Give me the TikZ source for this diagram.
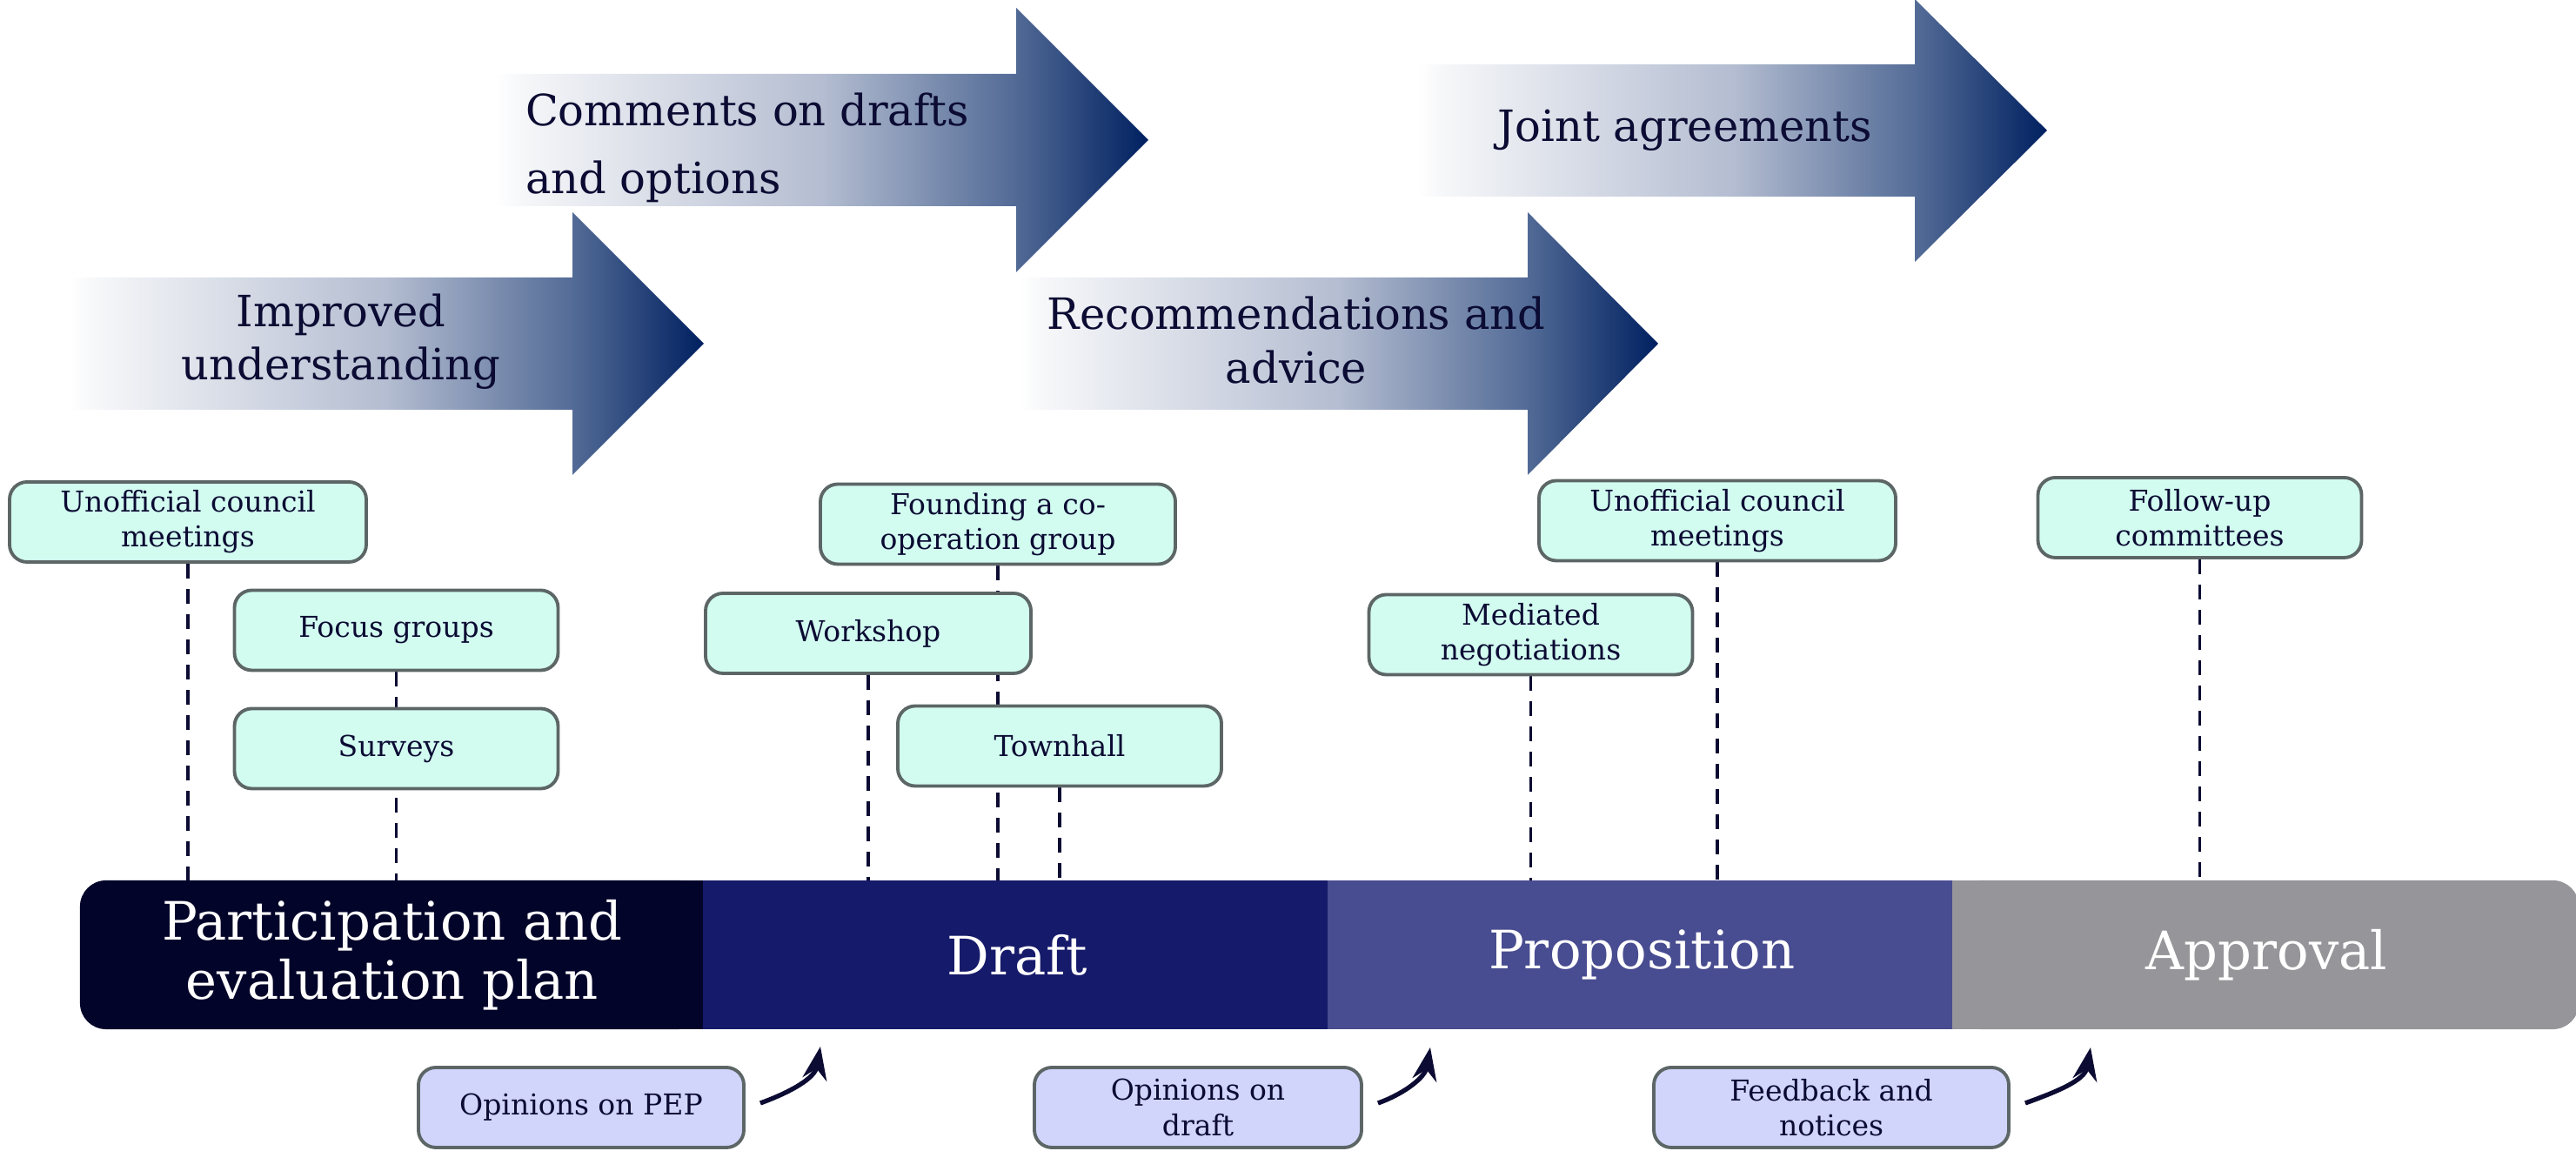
\documentclass[tikz,border=0pt]{standalone}
\usepackage{fontspec}
\setmainfont{DejaVu Serif}
\usepackage{tikz}
\usetikzlibrary{backgrounds}
\usetikzlibrary{positioning}
\usetikzlibrary{arrows.meta}
\definecolor{navytext}{HTML}{0B0B33}
\definecolor{planblue}{HTML}{03042A}
\definecolor{draftblue}{HTML}{161A6A}
\definecolor{propblue}{HTML}{484C90}
\definecolor{approvalgray}{HTML}{96959A}
\definecolor{mintfill}{HTML}{D2FCF0}
\definecolor{lavfill}{HTML}{D1D5FC}
\definecolor{cardline}{HTML}{5D6666}
\definecolor{gaindark}{HTML}{002060}
\definecolor{gainpale}{HTML}{F6F7F9}
\definecolor{gainmid}{HTML}{B4BDD1}
\definecolor{gainlow}{HTML}{546C97}
\pgfdeclarehorizontalshading{gainshade}{100bp}{color(0bp)=(white); color(25bp)=(white); color(27bp)=(gainpale); color(50bp)=(gainmid); color(64.5bp)=(gainlow); color(75bp)=(gaindark); color(100bp)=(gaindark)}

\begin{document}
\begin{tikzpicture}[
            > = {Stealth[length=3.8mm,width=2.8mm]}, % arrow head style
            semithick % line style
            ]

        \tikzstyle{phase}=[
            inner sep = 0pt,
            minimum width = 7.16cm,
            minimum height = 1.69cm,
            align = center,
            text = white,
            font = \fontsize{17.3}{19.4}\selectfont
        ]
        \tikzstyle{topcard}=[
            draw = cardline,
            line width = 1.1pt,
            fill = mintfill,
            rounded corners = 0.2cm,
            inner sep = 0pt,
            minimum width = 3.72cm,
            minimum height = 0.92cm,
            align = center,
            text = navytext,
            font = \fontsize{9.4}{11.4}\selectfont
        ]
        \tikzstyle{bottomcard}=[topcard, fill = lavfill]
        \tikzstyle{gain}=[text = navytext, align = center, inner sep = 0pt, font = \fontsize{14.1}{17.4}\selectfont]
        \tikzstyle{guide}=[draw = navytext, line width = 1pt, dash pattern = on 0.17cm off 0.12cm]
        \tikzstyle{feed}=[->, draw = navytext, line width = 1.5pt]

        \useasboundingbox (0,0) rectangle (29.61,13.23);

	% gain arrows
	\shade[shading = gainshade] (0.80,10.04) -- (6.58,10.04) -- (6.58,10.79) -- (8.09,9.28) -- (6.58,7.77) -- (6.58,8.52) -- (0.80,8.52) -- cycle;
	\shade[shading = gainshade] (5.70,12.38) -- (11.68,12.38) -- (11.68,13.14) -- (13.20,11.62) -- (11.68,10.10) -- (11.68,10.86) -- (5.70,10.86) -- cycle;
	\shade[shading = gainshade] (11.72,10.04) -- (17.56,10.04) -- (17.56,10.79) -- (19.06,9.28) -- (17.56,7.77) -- (17.56,8.52) -- (11.72,8.52) -- cycle;
	\shade[shading = gainshade] (16.30,12.49) -- (22.01,12.49) -- (22.01,13.24) -- (23.53,11.73) -- (22.01,10.22) -- (22.01,10.97) -- (16.30,10.97) -- cycle;

	\node[gain] (understand) at (3.92,9.30) {Improved\\understanding};
	\node[gain, align = left, anchor = west, font = \fontsize{14.1}{22}\selectfont] (comments) at (6.03,11.53) {Comments on drafts\\and options};
	\node[gain] (recommend) at (14.90,9.32) {Recommendations and\\advice};
	\node[gain] (joint) at (19.37,11.73) {Joint agreements};

	% phases
	\node[phase] (pep) at (4.51,2.255) {Participation and\\evaluation plan};
	\node[phase, right = 0cm of pep] (draft) {Draft};
	\node[phase, right = 0cm of draft] (proposition) {Proposition};
	\node[phase, right = 0cm of proposition] (approval) {Approval};

	% activities
	\node[topcard, minimum width = 4.10cm] (council1) at (2.16,7.23) {Unofficial council\\meetings};
	\node[topcard] (focus) at (4.555,5.985) {Focus groups};
	\node[topcard] (surveys) at (4.555,4.625) {Surveys};
	\node[topcard, minimum width = 4.08cm] (founding) at (11.47,7.205) {Founding a co-\\operation group};
	\node[topcard, minimum width = 3.74cm] (workshop) at (9.98,5.95) {Workshop};
	\node[topcard] (townhall) at (12.18,4.655) {Townhall};
	\node[topcard] (mediated) at (17.595,5.935) {Mediated\\negotiations};
	\node[topcard, minimum width = 4.10cm] (council2) at (19.74,7.245) {Unofficial council\\meetings};
	\node[topcard] (followup) at (25.285,7.28) {Follow-up\\committees};

	% feedback
	\node[bottomcard, minimum width = 3.74cm] (pepviews) at (6.68,0.50) {Opinions on PEP};
	\node[bottomcard, minimum width = 3.76cm] (draftviews) at (13.77,0.50) {Opinions on\\draft};
	\node[bottomcard, minimum width = 4.08cm] (feedback) at (21.05,0.50) {Feedback and\\notices};

	\coordinate (pepin) at (9.43,1.20);
	\coordinate (draftin) at (16.44,1.19);
	\coordinate (propin) at (24.03,1.19);
	\draw[feed] ([xshift = 0.17cm, yshift = 0.05cm]pepviews.east) to[out = 20, in = -100] (pepin);
	\draw[feed] ([xshift = 0.17cm, yshift = 0.05cm]draftviews.east) to[out = 20, in = -100] (draftin);
	\draw[feed] ([xshift = 0.17cm, yshift = 0.05cm]feedback.east) to[out = 20, in = -100] (propin);

	\begin{scope}[on background layer]
	\fill[planblue, rounded corners = 0.3cm] (pep.south west) rectangle (pep.north east);
	\fill[planblue] (pep.south) rectangle (pep.north east);
	\fill[draftblue] ([xshift = -0.02cm]draft.south west) rectangle (draft.north east);
	\fill[propblue] ([xshift = -0.02cm]proposition.south west) rectangle (proposition.north east);
	\fill[approvalgray, rounded corners = 0.3cm] (approval.south west) rectangle (approval.north east);
	\fill[approvalgray] ([xshift = -0.02cm]approval.south west) rectangle (approval.north);
	% dashed guides
	\draw[guide] (council1.south) -- (council1.south |- pep.north);
	\draw[guide] (focus.south) -- (focus.south |- pep.north);
	\draw[guide] (workshop.south) -- (workshop.south |- draft.north);
	\draw[guide] (founding.south) -- (founding.south |- draft.north);
	\draw[guide] (townhall.south) -- (townhall.south |- draft.north);
	\draw[guide] (mediated.south) -- (mediated.south |- proposition.north);
	\draw[guide] (council2.south) -- (council2.south |- proposition.north);
	\draw[guide] (followup.south) -- (followup.south |- approval.north);
	\end{scope}

\end{tikzpicture}
\end{document}
